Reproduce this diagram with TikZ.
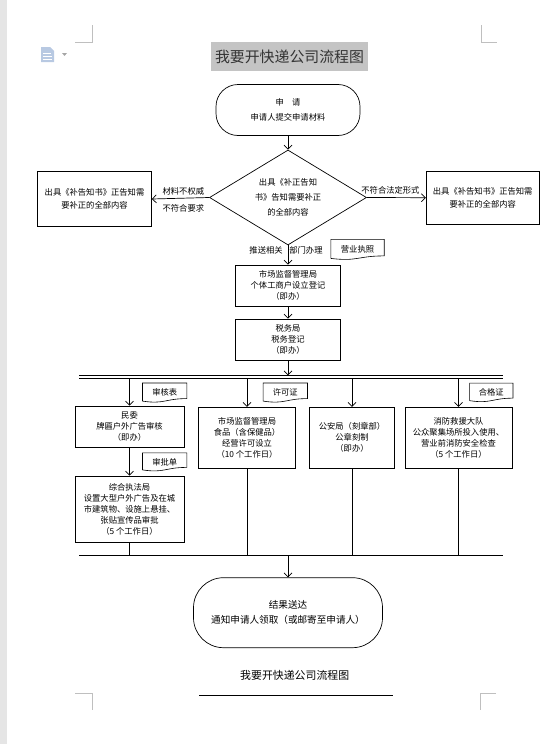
\documentclass[tikz,border=0pt]{standalone}
\usepackage{fontspec}
\newfontfamily\cjk{Noto Sans CJK SC}
\usetikzlibrary{arrows.meta,shapes.geometric}

\definecolor{iconblue}{RGB}{184,201,226}

\newcommand{\docline}[1]{%
  \draw [line width=0.6pt] (#1.north west) -- (#1.north east) -- ([yshift=3.8pt]#1.south east)
    .. controls ([yshift=3.8pt]#1.south) and ([yshift=-2pt]#1.south) .. ([yshift=1.3pt]#1.south west) -- cycle;}

\begin{document}
\begin{tikzpicture}[x=1pt, y=-1pt,
    arr/.style={-{Straight Barb[length=4pt,width=8pt]}, line width=0.7pt},
    proc/.style={draw, line width=0.7pt, align=center, inner sep=0pt, font={\cjk\fontsize{8.3pt}{11pt}\selectfont}},
    term/.style={proc, rounded corners=22pt, font={\cjk\fontsize{8.3pt}{15pt}\selectfont}},
    paper/.style={align=center, inner sep=0pt, font={\cjk\fontsize{8.3pt}{10pt}\selectfont}},
    lbl/.style={inner sep=1pt, font={\cjk\fontsize{8.3pt}{10pt}\selectfont}},
    cropline/.style={draw=black!25, line width=0.7pt}]

        \useasboundingbox (0,0) rectangle (557,744);
        \fill [black!10] (0,0) rectangle (7,744);

        \draw [cropline] (75,42) -- (92,42) -- (92,25);
        \draw [cropline] (481,25) -- (481,42) -- (497,42);
        \draw [cropline] (75,693) -- (92,693) -- (92,710);
        \draw [cropline] (496,693) -- (480,693) -- (480,710);

        \fill [iconblue] (41,47) -- (50,47) -- (54,51) -- (54,62) -- (41,62) -- cycle;
        \draw [white, line width=0.8pt] (43,53) -- (51,53) (43,56) -- (52,56) (43,59) -- (52,59);
        \fill [black!35] (62,53) -- (67,53) -- (64.5,56) -- cycle;

        \node (T0) [fill=black!23, inner sep=0pt, minimum width=157pt, minimum height=29pt,
            text=black!80, font={\cjk\fontsize{14.9pt}{16pt}\selectfont}] at (289.5,56.5) {我要开快递公司流程图};

        \node (S0) [term, minimum width=144pt, minimum height=51pt] at (288,110) {申　请\\申请人提交申请材料};
        \node (D0) [draw, diamond, aspect=1.65, line width=0.7pt, minimum width=157pt, minimum height=95pt, inner sep=0pt,
            align=center, font={\cjk\fontsize{8.3pt}{15pt}\selectfont}] at (288,197.5) {出具《补正告知\\书》告知需要补正\\的全部内容};
        \node (L0) [proc, minimum width=114pt, minimum height=55pt, font={\cjk\fontsize{8.3pt}{13.5pt}\selectfont}]
            at (94.5,199) {出具《补告知书》正告知需\\要补正的全部内容};
        \node (R0) [proc, minimum width=113pt, minimum height=53pt, font={\cjk\fontsize{8.3pt}{13.5pt}\selectfont}]
            at (482.7,197.7) {出具《补告知书》正告知需\\要补正的全部内容};

      \draw [arr] (S0) -- (D0);
      \draw [arr] (D0.west) -- (L0.east) node[lbl, pos=0.45, above=2pt] {材料不权威} node[lbl, pos=0.45, below=5pt] {不符合要求};
      \draw [arr] (D0.east) -- (R0.west) node[lbl, pos=0.4, above=2pt] {不符合法定形式};

        \node (B1) [proc, minimum width=105pt, minimum height=41pt] at (288,285.5) {市场监督管理局\\个体工商户设立登记\\（即办）};
        \node (B2) [proc, minimum width=105pt, minimum height=41pt] at (288,339.5) {税务局\\税务登记\\（即办）};
        \node (P1) [paper, minimum width=53pt, minimum height=20pt] at (357.5,249.5) {营业执照};
        \docline{P1}

      \draw [arr] (D0.south) -- (B1.north) node[lbl, pos=0.25, left=4pt] {推送相关} node[lbl, pos=0.25, right=0pt] {部门办理};
      \draw [arr] (B1) -- (B2);

            \coordinate (H0) at (79,375.3);
            \coordinate (H1) at (502.7,375.3);
            \coordinate (H2) at (79,378.7);
            \coordinate (H3) at (502.7,378.7);
            \coordinate (K0) at (288,375.3);
            \coordinate (K1) at (129.5,378.7);
            \coordinate (K2) at (247,378.7);
            \coordinate (K3) at (352,378.7);
            \coordinate (K4) at (458.5,378.7);

      \draw [line width=0.8pt] (H0) -- (H1);
      \draw [line width=0.8pt] (H2) -- (H3);
      \draw [arr] (B2) -- (K0);

        \node (B3) [proc, minimum width=109.3pt, minimum height=41.3pt] at (129.5,426.7) {民委\\牌匾户外广告审核\\（即办）};
        \node (B4) [proc, minimum width=109.3pt, minimum height=66.3pt] at (129.5,509.2)
            {综合执法局\\设置大型户外广告及在城\\市建筑物、设施上悬挂、\\张贴宣传品审批\\（5 个工作日）};
        \node (B5) [proc, minimum width=97.4pt, minimum height=61pt] at (247,437.8)
            {市场监督管理局\\食品（含保健品）\\经营许可设立\\（10 个工作日）};
        \node (B6) [proc, minimum width=85pt, minimum height=61pt] at (352,437.8) {公安局（刻章部）\\公章刻制\\（即办）};
        \node (B7) [proc, minimum width=106.7pt, minimum height=61pt] at (458.5,437.8)
            {消防救援大队\\公众聚集场所投入使用、\\营业前消防安全检查\\（5 个工作日）};

        \node (P2) [paper, minimum width=44pt, minimum height=19pt] at (164.7,392.7) {审核表};
        \node (P3) [paper, minimum width=44pt, minimum height=18pt] at (164.7,462) {审批单};
        \node (P4) [paper, minimum width=44pt, minimum height=19pt] at (285.3,392.7) {许可证};
        \node (P5) [paper, minimum width=43pt, minimum height=18.5pt] at (491.3,392.5) {合格证};
        \docline{P2}
        \docline{P3}
        \docline{P4}
        \docline{P5}

      \draw [arr] (K1) -- (B3);
      \draw [arr] (B3) -- (B4);
      \draw [arr] (K2) -- (B5);
      \draw [arr] (K3) -- (B6);
      \draw [arr] (K4) -- (B7);

            \coordinate (M0) at (79,555);
            \coordinate (M1) at (502.7,555);
            \coordinate (M2) at (129.5,555);
            \coordinate (M3) at (247,555);
            \coordinate (M4) at (352,555);
            \coordinate (M5) at (458.5,555);
            \coordinate (M6) at (288,555);

      \draw [line width=0.8pt] (M0) -- (M1);
      \draw [line width=0.7pt] (B4) -- (M2);
      \draw [line width=0.7pt] (B5) -- (M3);
      \draw [line width=0.7pt] (B6) -- (M4);
      \draw [line width=0.7pt] (B7) -- (M5);

        \node (T1) [term, rounded corners=30pt, minimum width=189pt, minimum height=70pt,
            font={\cjk\fontsize{9.6pt}{15pt}\selectfont}] at (288,612.7) {结果送达\\通知申请人领取（或邮寄至申请人）};
      \draw [arr] (M6) -- (T1);

        \node (T2) [font={\cjk\fontsize{10.9pt}{12pt}\selectfont}] at (294.7,675) {我要开快递公司流程图};
            \coordinate (U0) at (199,695);
            \coordinate (U1) at (392.7,695);
      \draw [line width=0.8pt] (U0) -- (U1);

      \end{tikzpicture}
\end{document}
